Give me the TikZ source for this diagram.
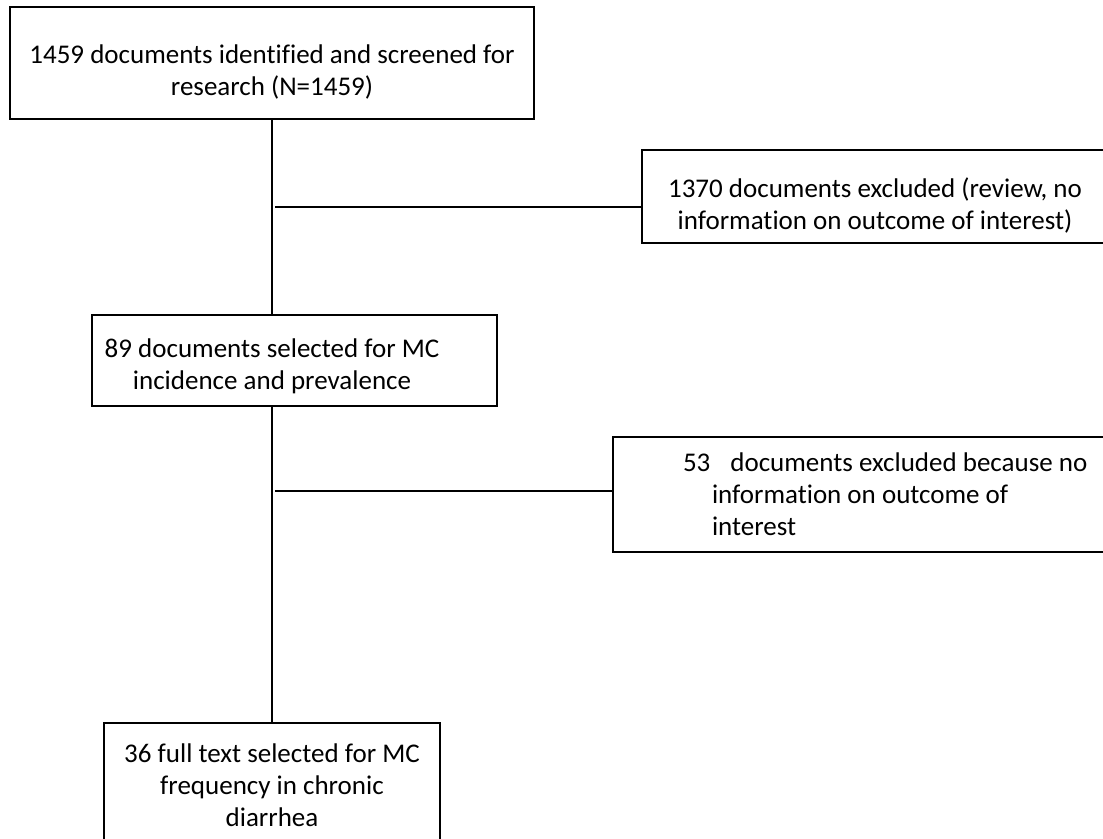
\documentclass[tikz,border=0pt]{standalone}
\usepackage{fontspec}
\setmainfont[Ligatures={NoCommon}]{Carlito}
\newcommand\pushdn[1]{\rule{0pt}{\dimexpr 0.75em+2\dimexpr#1\relax\relax}}
\begin{document}
\begin{tikzpicture}[x=1pt,y=-1pt,
  box/.style={draw=black, line width=2.6pt, align=center, inner sep=0pt,
    font=\fontsize{27}{32}\selectfont},
  conn/.style={draw=black, line width=1.2pt}]
\useasboundingbox (0,0) rectangle (1103,838);
\clip (0,0) rectangle (1103,838);
\node[box, minimum width=524pt, minimum height=112pt] (b1) at (272,63)
  {\pushdn{8pt}1459 documents identified and screened for\\research (N=1459)};
\node[box, minimum width=466pt, minimum height=93pt] (b1370) at (875,196.5)
  {\pushdn{9pt}1370 documents excluded (review, no\\information on outcome of interest)};
\node[box, minimum width=405pt, minimum height=91pt] (b89) at (294.5,360.5)
  {\pushdn{5pt}89 documents selected for MC\hspace*{45pt}\\incidence and prevalence\hspace*{45pt}};
\node[box, align=flush left, text width=420pt, inner xsep=70pt, minimum height=115pt] (b53) at (893,494.5)
  {53\hspace{20pt}documents excluded because no\\\hspace*{29pt}information on outcome of\\\hspace*{29pt}interest};
\node[box, minimum width=336pt, minimum height=124pt] (b36) at (272,785)
  {36 full text selected for MC\\frequency in chronic\\diarrhea};
\coordinate (j1) at (275,207);
\coordinate (j2) at (275,491);
\draw[conn] (b1.south) -- (b1.south |- b89.north);
\draw[conn] (b1.south |- b89.south) -- (b36.north);
\draw[conn] (j1) -- (j1 -| b1370.west);
\draw[conn] (j2) -- (j2 -| b53.west);
\end{tikzpicture}
\end{document}
